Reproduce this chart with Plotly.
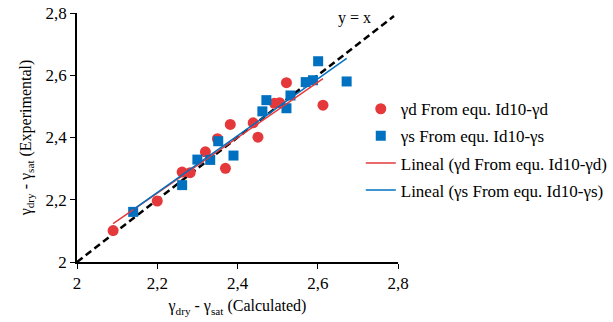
import plotly.graph_objects as go

# Data
gd_calc = [2.090, 2.200, 2.262, 2.282, 2.320, 2.350, 2.370, 2.382, 2.439, 2.451, 2.492, 2.505, 2.522, 2.613]
gd_exp  = [2.101, 2.196, 2.289, 2.287, 2.354, 2.396, 2.301, 2.442, 2.447, 2.401, 2.510, 2.512, 2.576, 2.504]

gs_calc = [2.140, 2.262, 2.300, 2.332, 2.352, 2.390, 2.462, 2.472, 2.522, 2.532, 2.570, 2.588, 2.601, 2.672]
gs_exp  = [2.161, 2.247, 2.329, 2.328, 2.388, 2.342, 2.484, 2.520, 2.494, 2.535, 2.578, 2.584, 2.645, 2.580]

# Linear trendline endpoints
fit_gd_x = [2.090, 2.613]
fit_gd_y = [2.123, 2.589]
fit_gs_x = [2.140, 2.672]
fit_gs_y = [2.168, 2.654]

ident = [2.0, 2.79]

ticks = [2.0, 2.2, 2.4, 2.6, 2.8]
tick_labels = ["2", "2,2", "2,4", "2,6", "2,8"]

RED = "#E5383B"
BLUE = "#0070C0"
FONT = "Liberation Serif"

fig = go.Figure()
fig.add_trace(go.Scatter(x=ident, y=ident, mode="lines", showlegend=False,
                         line=dict(color="black", width=2.5, dash="7px,4px")))
fig.add_trace(go.Scatter(x=gd_calc, y=gd_exp, mode="markers", name="γd From equ. Id10-γd",
                         legendgroup="a", marker=dict(color=RED, size=11, symbol="circle")))
fig.add_trace(go.Scatter(x=gs_calc, y=gs_exp, mode="markers", name="γs From equ. Id10-γs",
                         legendgroup="b", marker=dict(color=BLUE, size=10, symbol="square")))
fig.add_trace(go.Scatter(x=fit_gd_x, y=fit_gd_y, mode="lines", name="Lineal (γd From equ. Id10-γd)",
                         legendgroup="c", line=dict(color=RED, width=1.5)))
fig.add_trace(go.Scatter(x=fit_gs_x, y=fit_gs_y, mode="lines", name="Lineal (γs From equ. Id10-γs)",
                         legendgroup="d", line=dict(color=BLUE, width=1.5)))

fig.add_annotation(x=2.692, y=2.784, text="y = x", showarrow=False,
                   font=dict(family=FONT, size=16, color="black"))

axis_common = dict(range=[2, 2.8], tickvals=ticks, ticktext=tick_labels, showgrid=False,
                   zeroline=False, showline=True, linecolor="black", linewidth=1.5,
                   ticks="outside", ticklen=5, tickcolor="black",
                   tickfont=dict(family=FONT, size=17, color="black"))

fig.update_xaxes(**axis_common, title=dict(text="γ<sub>dry</sub> - γ<sub>sat</sub> (Calculated)",
                 font=dict(family=FONT, size=16, color="black"), standoff=8))
fig.update_yaxes(**axis_common, title=dict(text="γ<sub>dry</sub> - γ<sub>sat</sub> (Experimental)",
                 font=dict(family=FONT, size=16, color="black"), standoff=10))

fig.update_layout(
    width=613, height=322,
    margin=dict(l=77, r=215, t=13, b=60, autoexpand=False),
    paper_bgcolor="white", plot_bgcolor="white",
    legend=dict(x=0.884, y=0.686, xanchor="left", yanchor="top",
                font=dict(family=FONT, size=17, color="black"),
                tracegroupgap=2, bgcolor="rgba(0,0,0,0)"),
)

fig.write_html("out.html")
